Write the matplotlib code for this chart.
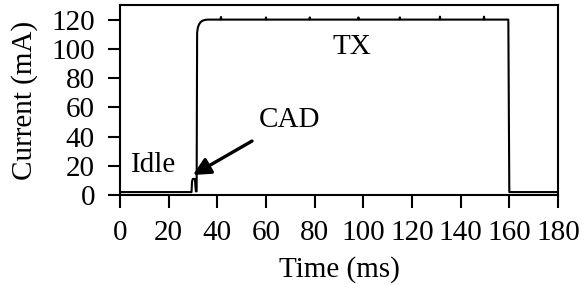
import matplotlib
matplotlib.use("Agg")
import matplotlib.pyplot as plt

plt.rcParams['font.family'] = ['Liberation Serif', 'DejaVu Serif']

time_ms = [0, 29.4, 29.6, 29.9, 30.8, 31.0, 31.2, 31.5, 31.7, 32.0, 32.5, 33.2, 34.0, 35.0, 36.0,
           41.3, 41.5, 41.7, 59.8, 60.0, 60.2, 77.8, 78.0, 78.2, 97.8, 98.0, 98.2,
           114.8, 115.0, 115.2, 131.3, 131.5, 131.7, 149.4, 149.6, 149.8,
           159.6, 159.8, 160.0, 180.0]
current_ma = [2.0, 2.0, 9.0, 11.0, 11.0, 6.0, 2.5, 2.5, 111.0, 114.5, 116.8, 118.4, 119.3, 119.8, 120.0,
              120.0, 121.8, 120.0, 120.0, 121.5, 120.0, 120.0, 121.5, 120.0, 120.0, 121.5, 120.0,
              120.0, 121.5, 120.0, 120.0, 122.0, 120.0, 120.0, 122.0, 120.0,
              120.0, 60.0, 2.0, 2.0]

x_ticks = [0, 20, 40, 60, 80, 100, 120, 140, 160, 180]
y_ticks = [0, 20, 40, 60, 80, 100, 120]

FS = 21
fig = plt.figure(figsize=(5.85, 2.85), dpi=100)
ax = fig.add_axes([0.2051, 0.3158, 0.7487, 0.6667])
ax.plot(time_ms, current_ma, color='black', lw=1.5)
ax.set_xlim(0, 180)
ax.set_ylim(0, 130)
ax.set_xticks(x_ticks)
ax.set_yticks(y_ticks)
ax.tick_params(direction='out', length=9, width=1.5, labelsize=FS, pad=9)
ax.tick_params(axis='x', top=False)
ax.tick_params(axis='y', right=False)
for s in ax.spines.values():
    s.set_linewidth(1.5)
ax.set_xlabel('Time (ms)', fontsize=FS, va='center')
ax.set_ylabel('Current (mA)', fontsize=FS, va='center')
ax.xaxis.set_label_coords(0.5, -0.39)
ax.yaxis.set_label_coords(-0.217, 0.5)

ax.text(95.5, 101.5, 'TX', fontsize=FS, ha='center', va='center')
ax.text(14, 20.6, 'Idle', fontsize=FS, ha='center', va='center')
ax.annotate('CAD', xy=(30.0, 13.7), xytext=(69.5, 51.5), fontsize=FS, ha='center', va='center',
            arrowprops=dict(arrowstyle='-|>', color='black', lw=2.4, mutation_scale=26,
                            shrinkA=8, shrinkB=0))

fig.savefig('out.png', dpi=100)
